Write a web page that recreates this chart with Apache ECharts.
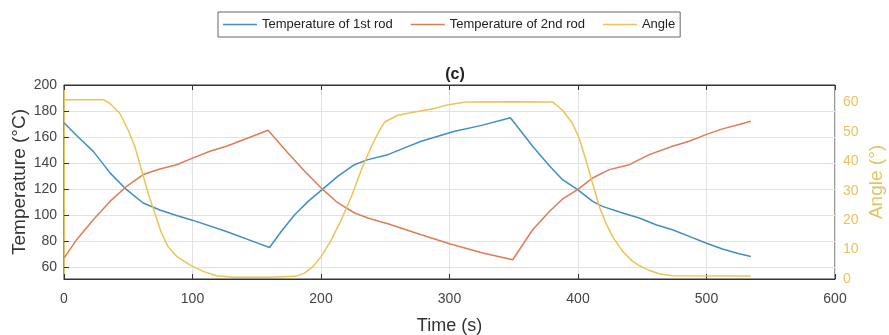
<!DOCTYPE html>
<html>
<head>
<meta charset="utf-8">
<script src="https://cdn.jsdelivr.net/npm/echarts@6/dist/echarts.min.js"></script>
<style>html,body{margin:0;padding:0;background:#fff;}#c{width:889px;height:335px;}</style>
</head>
<body>
<div id="c"></div>
<script>
// ---- data ----
const rod1Time = [0,10,22.8,35.8,48.7,61.6,74.6,87,100.5,126.4,152.3,160,169,179.5,190,201.5,213,226,236.5,252,265,278,304,325,347.4,364.7,377.7,388,399.7,411.4,419,434.7,447.7,460.6,473.5,486.5,499.5,512.4,525.4,534.5];
const rod1Temp = [171,161,149,132.5,119.6,109.4,104,100,96,87.5,78,75.2,87.5,100.4,110.6,120.2,129.8,138.8,142.7,146.5,151.7,156.8,164.5,169,174.8,152.9,138,127.3,119.6,110.6,106.8,101.7,97.8,92.7,88.8,83.7,78.6,74,70.4,68.3];

const rod2Time = [0,9.8,22.8,35.8,48.7,61.6,74.6,87.6,100.5,113.5,126.4,152.3,158.8,174.3,187.3,201.5,213.2,226.2,236.5,252,278,300,325.9,349.2,364.7,377.7,388,399.7,411.4,424.3,439.9,455.4,473.5,486.5,499.5,512.4,525.4,534.5];
const rod2Temp = [67,81.2,96.5,110.6,122.2,131.2,135.5,138.8,144,149.1,152.9,162.7,165.2,147.8,133.7,119.6,109.4,101.7,97.8,93.5,85,78.1,71,65.8,88.8,102.9,112.5,119.6,128.6,135,138.8,146.5,152.9,156.8,161.9,166.3,169.6,172.2];

const angleTime = [0,30.6,35.8,43.5,50,55.2,60.4,65.5,70.7,75.9,81,87.6,97.9,108.3,118.7,131.6,160,180,187.3,193.8,200.3,208,215.8,223.6,231.3,239.1,245.6,249.5,259.8,272.8,288.3,300,313,350,380.3,388,395.8,401,406.2,411.4,416.6,421.7,426.9,434.7,442.5,448,455,463.2,473.5,534.5];
const angleVal  = [61,61,59.7,56.3,50.6,45,37,29.2,22.4,15.6,11,7.7,4.8,2.6,1.1,0.6,0.6,0.9,2,4.3,7.7,13.3,20.1,28,37,45,50.6,53.4,55.7,56.8,58,59.4,60.2,60.3,60.2,57.4,52.9,47.8,40.4,32.5,24.6,19,14.4,9.4,6,4.5,3,1.8,1.1,1];

const seriesNames = ['Temperature of 1st rod','Temperature of 2nd rod','Angle'];
const timeTicks = [0,100,200,300,400,500,600];
const tempTicks = [60,80,100,120,140,160,180,200];
const angleTicks = [0,10,20,30,40,50,60];

// ---- chart ----
const zip = (a,b) => a.map((x,i)=>[x,b[i]]);
const FONT = 'Liberation Sans, Arial, sans-serif';
const BLUE = '#3f8fc4', ORANGE = '#de7c58', YELLOW = '#ebc453', YAXIS = '#e3c45e';

const chart = echarts.init(document.getElementById('c'), null, {renderer:'canvas'});
chart.setOption({
  animation:false,
  backgroundColor:'#fff',
  title:{
    text:'(c)', left:450, top:62, textAlign:'center',
    textStyle:{fontFamily:FONT, fontSize:16, fontWeight:'bold', color:'#222'}
  },
  legend:{
    left:218, top:12, orient:'horizontal',
    data:seriesNames,
    icon:'rect',
    itemWidth:34, itemHeight:1.5, itemGap:18,
    padding:[6,5,6,5],
    borderColor:'#666', borderWidth:1,
    textStyle:{fontFamily:FONT, fontSize:13, color:'#222'}
  },
  grid:{left:64, right:54, top:85, bottom:56, show:true, borderColor:'#333', borderWidth:1, containLabel:false, outerBoundsMode:'none'},
  xAxis:[{
    type:'value', min:0, max:600, interval:100, position:'bottom',
    name:'Time (s)', nameLocation:'middle', nameGap:38, nameMoveOverlap:false,
    nameTextStyle:{fontFamily:FONT, fontSize:18, color:'#333'},
    axisLine:{show:true, lineStyle:{color:'#333'}},
    axisTick:{show:true, inside:true, length:5, lineStyle:{color:'#333'}},
    axisLabel:{fontFamily:FONT, fontSize:14, color:'#444', margin:13, customValues:timeTicks},
    splitLine:{show:true, lineStyle:{color:'#e2e2e2', width:1}}
  },{
    type:'value', min:0, max:600, interval:100, position:'top',
    axisLine:{show:true, lineStyle:{color:'#333'}},
    axisTick:{show:true, inside:true, length:5, lineStyle:{color:'#333'}},
    axisLabel:{show:false}, splitLine:{show:false}
  }],
  yAxis:[{
    type:'value', min:51, max:200, position:'left',
    name:'Temperature (°C)', nameLocation:'middle', nameGap:35, nameRotate:90, nameMoveOverlap:false,
    nameTextStyle:{fontFamily:FONT, fontSize:19, color:'#333'},
    axisLine:{show:true, lineStyle:{color:'#333'}},
    axisTick:{show:true, inside:true, length:5, lineStyle:{color:'#333'}, customValues:tempTicks},
    axisLabel:{fontFamily:FONT, fontSize:14, color:'#444', margin:7, customValues:tempTicks},
    splitLine:{show:true, lineStyle:{color:'#e2e2e2', width:1}}
  },{
    type:'value', min:0, max:66, interval:10, position:'right',
    name:'Angle (°)', nameLocation:'middle', nameGap:32, nameRotate:90, nameMoveOverlap:false,
    nameTextStyle:{fontFamily:FONT, fontSize:19, color:YAXIS},
    axisLine:{show:true, lineStyle:{color:YAXIS}},
    axisTick:{show:false},
    axisLabel:{fontFamily:FONT, fontSize:14, color:YAXIS, margin:8, customValues:angleTicks},
    splitLine:{show:false}
  }],
  series:[
    {name:seriesNames[0], type:'line', xAxisIndex:0, yAxisIndex:0, symbol:'none', data:zip(rod1Time,rod1Temp), lineStyle:{color:BLUE, width:1.5}, itemStyle:{color:BLUE}, z:3},
    {name:seriesNames[1], type:'line', xAxisIndex:0, yAxisIndex:0, symbol:'none', data:zip(rod2Time,rod2Temp), lineStyle:{color:ORANGE, width:1.5}, itemStyle:{color:ORANGE}, z:3},
    {name:seriesNames[2], type:'line', xAxisIndex:0, yAxisIndex:1, symbol:'none', data:zip(angleTime,angleVal), lineStyle:{color:YELLOW, width:1.5}, itemStyle:{color:YELLOW}, z:3}
  ]
});
</script>
</body>
</html>
